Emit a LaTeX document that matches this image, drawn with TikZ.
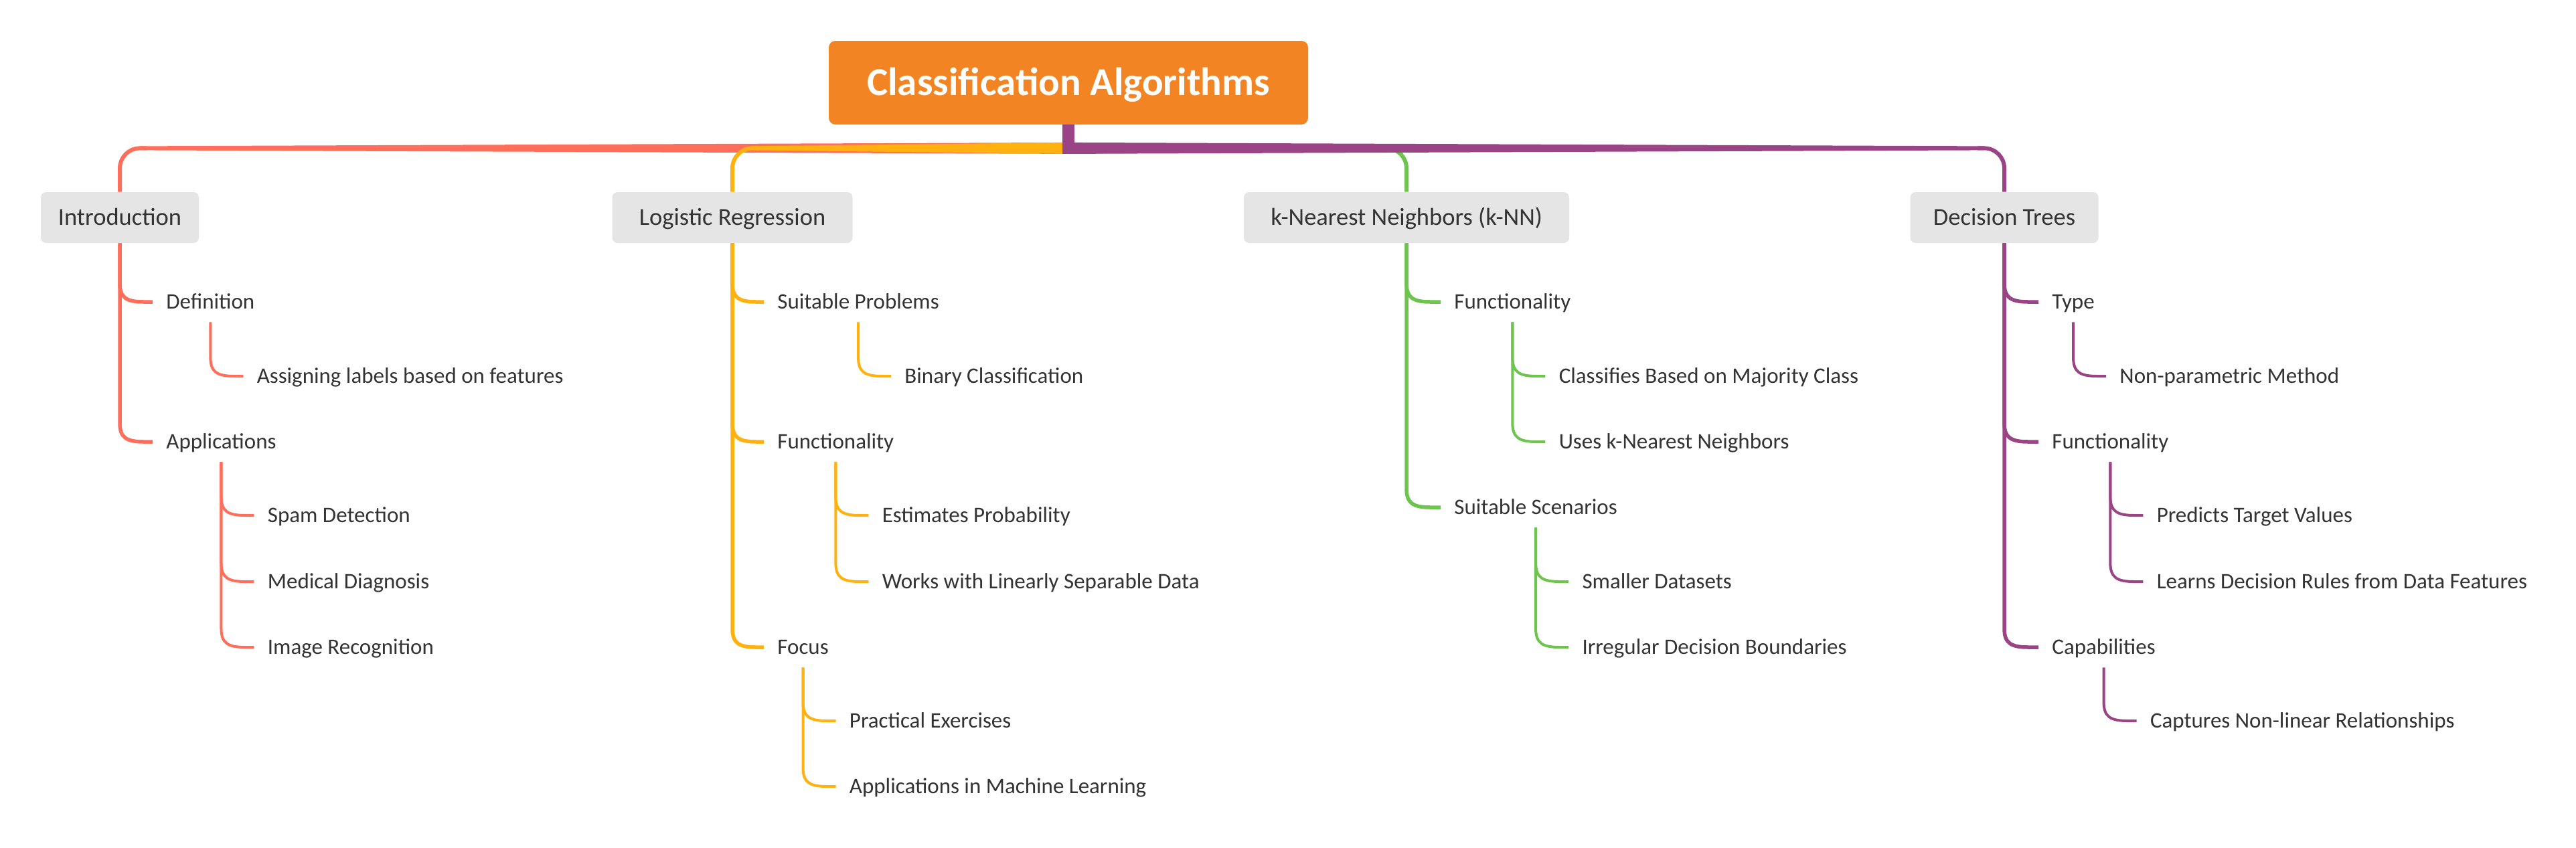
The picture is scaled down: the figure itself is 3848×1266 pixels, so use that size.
\documentclass[tikz,border=0pt]{standalone}
\usepackage{fontspec}
\setmainfont{Carlito}
\usetikzlibrary{calc}
\definecolor{cRed}{HTML}{FF6E5A}
\definecolor{cYel}{HTML}{FFB20F}
\definecolor{cGrn}{HTML}{6DC54E}
\definecolor{cPur}{HTML}{9A4485}
\definecolor{cOra}{HTML}{F38424}
\definecolor{cBox}{HTML}{E5E5E5}
\definecolor{cTxt}{HTML}{333333}
\begin{document}
\begin{tikzpicture}[x=0.5pt,y=-0.5pt,
  rootbox/.style={rectangle, rounded corners=5pt, fill=cOra, text=white,
    font=\fontsize{29.5pt}{31pt}\selectfont\bfseries, minimum width=358pt,
    minimum height=62.5pt, inner sep=0pt, text height=19pt, text depth=0pt},
  branchbox/.style={rectangle, rounded corners=4pt, fill=cBox, text=cTxt,
    font=\fontsize{18.25pt}{20pt}\selectfont, minimum height=38pt, inner sep=0pt,
    text height=11.75pt, text depth=0pt},
  leaf/.style={anchor=west, inner sep=0pt, text=cTxt,
    font=\fontsize{16.5pt}{18pt}\selectfont, text height=10.6pt, text depth=0pt},
  kid/.style={to path={let \p1=(\tikztostart), \p2=(\tikztotarget) in
    (\x1,\y1) -- (\x1,\y2+14pt) .. controls (\x1,\y2+3pt) and (\x1+5pt,\y2) ..
    (\x1+18pt,\y2) -- (\x2-10pt,\y2)}},
  lone/.style={line width=2.75pt},
  ltwo/.style={line width=2pt},
]
\useasboundingbox[fill=white] (0,0) rectangle (3848,1266);

% root and branch boxes
\node[rootbox] (root) at (1596,123.5) {Classification Algorithms};
\node[branchbox, minimum width=118pt] (intro) at (179,325) {Introduction};
\node[branchbox, minimum width=179.5pt] (logreg) at (1094,325) {Logistic Regression};
\node[branchbox, minimum width=243pt] (knn) at (2101,325) {k-Nearest Neighbors (k-NN)};
\node[branchbox, minimum width=140.5pt] (dtree) at (2994,325) {Decision Trees};
\coordinate (hub) at ($(root.south)+(0,35)$);

% top connectors (tapered)
\fill[cRed] let \p1=(hub), \p2=(intro.north) in
  (\x1,\y1+4.25pt) -- (\x2+15pt,\y1+1.5pt) -- (\x2+15pt,\y1-1.5pt) -- (\x1,\y1-4.25pt) -- cycle;
\draw[cRed, line width=3pt, rounded corners=15pt] let \p1=(hub), \p2=(intro.north) in
  (\x2+20pt,\y1) -- (\x2,\y1) -- (\x2,\y2);
\fill[cYel] let \p1=(hub), \p2=(logreg.north) in
  (\x1,\y1+4.25pt) -- (\x2+15pt,\y1+1.5pt) -- (\x2+15pt,\y1-1.5pt) -- (\x1,\y1-4.25pt) -- cycle;
\draw[cYel, line width=3pt, rounded corners=15pt] let \p1=(hub), \p2=(logreg.north) in
  (\x2+20pt,\y1) -- (\x2,\y1) -- (\x2,\y2);
\fill[cGrn] let \p1=(hub), \p2=(knn.north) in
  (\x1,\y1+4.25pt) -- (\x2-15pt,\y1+1.5pt) -- (\x2-15pt,\y1-1.5pt) -- (\x1,\y1-4.25pt) -- cycle;
\draw[cGrn, line width=3pt, rounded corners=15pt] let \p1=(hub), \p2=(knn.north) in
  (\x2-20pt,\y1) -- (\x2,\y1) -- (\x2,\y2);
\fill[cPur] let \p1=(hub), \p2=(dtree.north) in
  (\x1,\y1+4.25pt) -- (\x2-15pt,\y1+1.5pt) -- (\x2-15pt,\y1-1.5pt) -- (\x1,\y1-4.25pt) -- cycle;
\draw[cPur, line width=3pt, rounded corners=15pt] let \p1=(hub), \p2=(dtree.north) in
  (\x2-20pt,\y1) -- (\x2,\y1) -- (\x2,\y2);
\draw[cPur, line width=9pt] (root.south) -- ($(hub)+(0,8.5)$);

% ---------- Introduction ----------
\node[leaf] (iDef) at (248,451) {Definition};
\node[leaf] (iApp) at (248,660) {Applications};
\node[leaf] (iAssign) at ($(iDef.center |- 0,562)+(69,0)$) {Assigning labels based on features};
\node[leaf] (iSpam) at ($(iApp.center |- 0,770)+(69,0)$) {Spam Detection};
\node[leaf] (iMed) at ($(iApp.center |- 0,869)+(69,0)$) {Medical Diagnosis};
\node[leaf] (iImg) at ($(iApp.center |- 0,967)+(69,0)$) {Image Recognition};
\begin{scope}[cRed]
\draw[lone] (intro.south) to[kid] (iDef.west);
\draw[lone] (intro.south) to[kid] (iApp.west);
\draw[ltwo] ([yshift=-9.7pt]iDef.south) to[kid] (iAssign.west);
\draw[ltwo] ([yshift=-9.7pt]iApp.south) to[kid] (iSpam.west);
\draw[ltwo] ([yshift=-9.7pt]iApp.south) to[kid] (iMed.west);
\draw[ltwo] ([yshift=-9.7pt]iApp.south) to[kid] (iImg.west);
\end{scope}

% ---------- Logistic Regression ----------
\node[leaf] (lSuit) at (1161,451) {Suitable Problems};
\node[leaf] (lFun) at (1161,660) {Functionality};
\node[leaf] (lFoc) at (1161,967) {Focus};
\node[leaf] (lBin) at ($(lSuit.center |- 0,562)+(69,0)$) {Binary Classification};
\node[leaf] (lEst) at ($(lFun.center |- 0,770)+(69,0)$) {Estimates Probability};
\node[leaf] (lWork) at ($(lFun.center |- 0,869)+(69,0)$) {Works with Linearly Separable Data};
\node[leaf] (lPrac) at ($(lFoc.center |- 0,1077)+(69,0)$) {Practical Exercises};
\node[leaf] (lAppl) at ($(lFoc.center |- 0,1175)+(69,0)$) {Applications in Machine Learning};
\begin{scope}[cYel]
\draw[lone] (logreg.south) to[kid] (lSuit.west);
\draw[lone] (logreg.south) to[kid] (lFun.west);
\draw[lone] (logreg.south) to[kid] (lFoc.west);
\draw[ltwo] ([yshift=-9.7pt]lSuit.south) to[kid] (lBin.west);
\draw[ltwo] ([yshift=-9.7pt]lFun.south) to[kid] (lEst.west);
\draw[ltwo] ([yshift=-9.7pt]lFun.south) to[kid] (lWork.west);
\draw[ltwo] ([yshift=-9.7pt]lFoc.south) to[kid] (lPrac.west);
\draw[ltwo] ([yshift=-9.7pt]lFoc.south) to[kid] (lAppl.west);
\end{scope}

% ---------- k-NN ----------
\node[leaf] (kFun) at (2172,451) {Functionality};
\node[leaf] (kSuit) at (2172,758) {Suitable Scenarios};
\node[leaf] (kCls) at ($(kFun.center |- 0,562)+(69,0)$) {Classifies Based on Majority Class};
\node[leaf] (kUse) at ($(kFun.center |- 0,660)+(69,0)$) {Uses k-Nearest Neighbors};
\node[leaf] (kSmall) at ($(kSuit.center |- 0,869)+(69,0)$) {Smaller Datasets};
\node[leaf] (kIrr) at ($(kSuit.center |- 0,967)+(69,0)$) {Irregular Decision Boundaries};
\begin{scope}[cGrn]
\draw[lone] (knn.south) to[kid] (kFun.west);
\draw[lone] (knn.south) to[kid] (kSuit.west);
\draw[ltwo] ([yshift=-9.7pt]kFun.south) to[kid] (kCls.west);
\draw[ltwo] ([yshift=-9.7pt]kFun.south) to[kid] (kUse.west);
\draw[ltwo] ([yshift=-9.7pt]kSuit.south) to[kid] (kSmall.west);
\draw[ltwo] ([yshift=-9.7pt]kSuit.south) to[kid] (kIrr.west);
\end{scope}

% ---------- Decision Trees ----------
\node[leaf] (dType) at (3065,451) {Type};
\node[leaf] (dFun) at (3065,660) {Functionality};
\node[leaf] (dCap) at (3065,967) {Capabilities};
\node[leaf] (dNon) at ($(dType.center |- 0,562)+(69,0)$) {Non-parametric Method};
\node[leaf] (dPred) at ($(dFun.center |- 0,770)+(69,0)$) {Predicts Target Values};
\node[leaf] (dLearn) at ($(dFun.center |- 0,869)+(69,0)$) {Learns Decision Rules from Data Features};
\node[leaf] (dCapt) at ($(dCap.center |- 0,1077)+(69,0)$) {Captures Non-linear Relationships};
\begin{scope}[cPur]
\draw[lone] (dtree.south) to[kid] (dType.west);
\draw[lone] (dtree.south) to[kid] (dFun.west);
\draw[lone] (dtree.south) to[kid] (dCap.west);
\draw[ltwo] ([yshift=-9.7pt]dType.south) to[kid] (dNon.west);
\draw[ltwo] ([yshift=-9.7pt]dFun.south) to[kid] (dPred.west);
\draw[ltwo] ([yshift=-9.7pt]dFun.south) to[kid] (dLearn.west);
\draw[ltwo] ([yshift=-9.7pt]dCap.south) to[kid] (dCapt.west);
\end{scope}
\end{tikzpicture}
\end{document}
